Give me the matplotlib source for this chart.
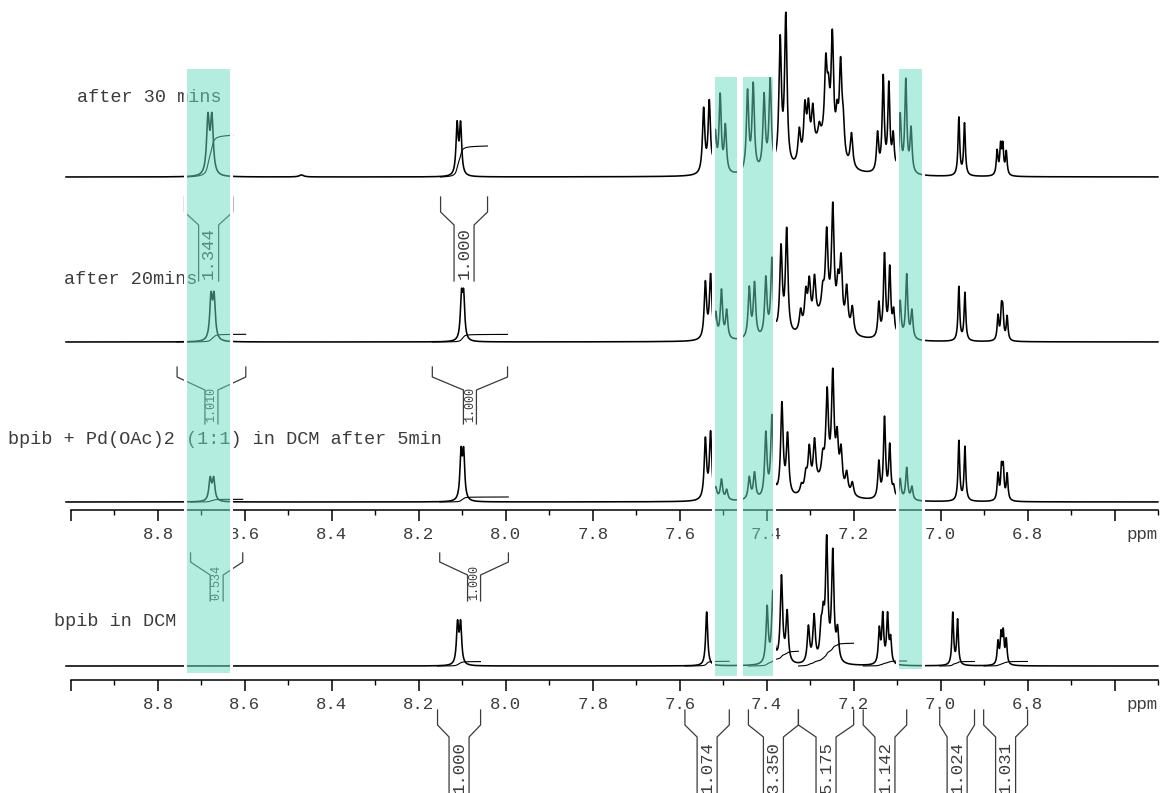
import numpy as np
import matplotlib
matplotlib.use("Agg")
import matplotlib.pyplot as plt
from matplotlib.patches import Rectangle
from matplotlib.ticker import FixedLocator, MultipleLocator

plt.rcParams["font.family"] = ["Liberation Mono", "DejaVu Sans Mono"]

# ------------------------------------------------------------------ data
titles = [
    "after 30 mins",
    "after 20mins",
    "bpib + Pd(OAc)2 (1:1) in DCM after 5min",
    "bpib in DCM",
]

# Peak tables for each trace: shift (ppm), height, half width at half height (ppm)
s1_shift = [8.685, 8.676, 8.470, 8.112, 8.104,
            7.545, 7.532, 7.518, 7.507, 7.495,
            7.444, 7.431, 7.406, 7.392, 7.369, 7.356,
            7.275, 7.325, 7.312, 7.304, 7.294, 7.279, 7.264, 7.258, 7.249,
            7.238, 7.230, 7.224, 7.205,
            7.145, 7.132, 7.119, 7.109, 7.093, 7.080, 7.068,
            6.958, 6.945, 6.870, 6.862, 6.857, 6.849]
s1_height = [56, 56, 2, 50, 50,
             64, 70, 36, 76, 46,
             80, 86, 74, 88, 126, 150,
             30, 32, 50, 46, 40, 14, 76, 42, 112,
             34, 90, 32, 34,
             38, 94, 86, 34, 56, 92, 44,
             58, 52, 24, 28, 28, 23]
s1_width = [0.0038, 0.0038, 0.006, 0.003, 0.003,
            0.0032, 0.0032, 0.003, 0.003, 0.003,
            0.0032, 0.0032, 0.0032, 0.0032, 0.0034, 0.0034,
            0.032, 0.0035, 0.0035, 0.0035, 0.0035, 0.0035, 0.0035, 0.0035, 0.0035,
            0.0035, 0.0035, 0.0035, 0.0035,
            0.0028, 0.0028, 0.0028, 0.0028, 0.0028, 0.0028, 0.0028,
            0.0023, 0.0023, 0.0023, 0.0023, 0.0023, 0.0023]

s2_shift = [8.678, 8.671, 8.102, 8.097,
            7.541, 7.529, 7.517, 7.504, 7.492,
            7.440, 7.428, 7.402, 7.388, 7.367, 7.354,
            7.270, 7.322, 7.310, 7.302, 7.290, 7.271, 7.262, 7.248,
            7.236, 7.229, 7.216, 7.203,
            7.142, 7.129, 7.117, 7.108, 7.093, 7.078, 7.066,
            6.958, 6.944, 6.868, 6.860, 6.857, 6.847]
s2_height = [42, 42, 42, 42,
             56, 62, 22, 48, 28,
             50, 54, 58, 76, 86, 104,
             24, 20, 34, 42, 42, 20, 80, 112,
             36, 64, 42, 26,
             34, 82, 68, 24, 36, 64, 28,
             54, 48, 24, 28, 26, 24]
s2_width = [0.0035, 0.0035, 0.003, 0.003,
            0.0032, 0.0032, 0.003, 0.003, 0.003,
            0.0032, 0.0032, 0.0032, 0.0032, 0.0034, 0.0034,
            0.032, 0.0035, 0.0035, 0.0035, 0.0035, 0.0035, 0.0035, 0.0035,
            0.0035, 0.0035, 0.0035, 0.0035,
            0.0028, 0.0028, 0.0028, 0.0028, 0.0028, 0.0028, 0.0028,
            0.0023, 0.0023, 0.0023, 0.0023, 0.0023, 0.0023]

s3_shift = [8.680, 8.672, 8.103, 8.097,
            7.541, 7.529, 7.517, 7.504, 7.492,
            7.440, 7.428, 7.402, 7.388, 7.365, 7.352,
            7.270, 7.320, 7.310, 7.302, 7.290, 7.271, 7.261, 7.248,
            7.238, 7.229, 7.216, 7.203,
            7.142, 7.129, 7.117, 7.108, 7.093, 7.078, 7.066,
            6.958, 6.944, 6.868, 6.860, 6.856, 6.847]
s3_height = [22, 22, 46, 46,
             60, 66, 8, 20, 10,
             22, 26, 64, 80, 92, 60,
             18, 8, 16, 40, 44, 20, 86, 108,
             46, 38, 20, 13,
             36, 80, 52, 10, 20, 32, 13,
             60, 54, 26, 30, 30, 26]
s3_width = [0.0035, 0.0035, 0.003, 0.003,
            0.0032, 0.0032, 0.003, 0.003, 0.003,
            0.0032, 0.0032, 0.0032, 0.0032, 0.0034, 0.0034,
            0.032, 0.0035, 0.0035, 0.0035, 0.0035, 0.0035, 0.0035, 0.0035,
            0.0035, 0.0035, 0.0035, 0.0035,
            0.0028, 0.0028, 0.0028, 0.0028, 0.0028, 0.0028, 0.0028,
            0.0023, 0.0023, 0.0023, 0.0023, 0.0023, 0.0023]

s4_shift = [8.111, 8.104,
            7.538, 7.399, 7.386, 7.366, 7.353,
            7.304, 7.291, 7.275, 7.270, 7.262, 7.248, 7.237,
            7.141, 7.133, 7.122, 7.115,
            6.972, 6.961, 6.868, 6.861, 6.856, 6.849]
s4_height = [40, 40,
             54, 56, 70, 86, 50,
             36, 46, 28, 36, 118, 108, 30,
             34, 48, 48, 24,
             52, 45, 22, 28, 30, 24]
s4_width = [0.003, 0.003,
            0.0028, 0.003, 0.003, 0.0032, 0.0032,
            0.0032, 0.0032, 0.0032, 0.0032, 0.0032, 0.0032, 0.0032,
            0.0026, 0.0026, 0.0026, 0.0026,
            0.0023, 0.0023, 0.0023, 0.0023, 0.0023, 0.0023]

# Integration regions (upper ppm, lower ppm) and integral values
s1_int_range = [(8.739, 8.628), (8.150, 8.042)]
s1_int_value = [1.344, 1.000]
s2_int_range = [(8.756, 8.598), (8.169, 7.996)]
s2_int_value = [1.010, 1.000]
s3_int_range = [(8.725, 8.605), (8.152, 7.994)]
s3_int_value = [0.534, 1.000]
s4_int_range = [(8.157, 8.058), (7.588, 7.486), (7.442, 7.327), (7.327, 7.200),
                (7.178, 7.078), (7.002, 6.922), (6.901, 6.800)]
s4_int_value = [1.000, 1.074, 3.350, 5.175, 1.142, 1.024, 1.031]

# Highlighted shift windows (upper ppm, lower ppm)
highlight_ranges = [(8.737, 8.633), (7.524, 7.467), (7.459, 7.383), (7.100, 7.041)]

# Chemical-shift scale
major_ticks = [9.0, 8.8, 8.6, 8.4, 8.2, 8.0, 7.8, 7.6, 7.4, 7.2, 7.0, 6.8, 6.6]
tick_labels = ["", "8.8", "8.6", "8.4", "8.2", "8.0", "7.8", "7.6", "7.4",
               "7.2", "7.0", "6.8", ""]
axis_unit = "ppm"

# ------------------------------------------------------------------ layout
W, H, DPI = 1160, 793, 100
AX_X0, AX_X1 = 71, 1158            # pixel extent of the shift scale
PPM_HI, PPM_LO = 9.0, 6.5
PX_PER_PPM = (AX_X1 - AX_X0) / (PPM_HI - PPM_LO)


def px2ppm(x):
    return PPM_HI - (x - AX_X0) / PX_PER_PPM


def dppm(px):
    return px / PX_PER_PPM


baselines = [177, 342, 502, 666]
title_pos = [(77, 96), (64, 279), (8, 438), (54, 620)]
int_scale = [31.0, 7.6, 5.0, 4.4]           # pixels per integral unit
# bracket geometry: arm top, kink, channel top, channel bottom, half channel, font, label y
bracket_geom = [
    (197, 212, 225, 281, 10, 12.5, 253),
    (367, 377, 390, 424, 6.5, 8.5, 405),
    (553, 562, 575, 601, 6.5, 8.5, 582),
    (710, 725, 737, 800, 10, 12.5, 767),
]
axis_rows = [510, 680]
highlight_top = [67, 75, 75, 67]
highlight_bottom = [674, 677, 677, 670]
TEXT = "#3c3c3c"
LINE = "#3a3a3a"

spectra = [
    (s1_shift, s1_height, s1_width, s1_int_range, s1_int_value),
    (s2_shift, s2_height, s2_width, s2_int_range, s2_int_value),
    (s3_shift, s3_height, s3_width, s3_int_range, s3_int_value),
    (s4_shift, s4_height, s4_width, s4_int_range, s4_int_value),
]

fig = plt.figure(figsize=(W / DPI, H / DPI), dpi=DPI)
ax = fig.add_axes([0, 0, 1, 1])
ax.set_xlim(px2ppm(0), px2ppm(W))
ax.set_ylim(H, 0)
ax.axis("off")

grid = np.arange(px2ppm(66), PPM_LO - 1e-9, -0.0004)


def trace(x, shift, height, width):
    s = np.asarray(shift)[None, :]
    h = np.asarray(height)[None, :]
    w = np.asarray(width)[None, :]
    return np.sum(h / (1.0 + ((x[:, None] - s) / w) ** 2), axis=1)


for k, (shift, height, width, irange, ivalue) in enumerate(spectra):
    base = baselines[k]
    inten = trace(grid, shift, height, width)
    ax.plot(grid, base - inten, color="black", lw=1.15, zorder=3)

    top, kink, ctop, cbot, half, fs, ly = bracket_geom[k]
    for (hi, lo), val in zip(irange, ivalue):
        # integral curve
        m = (grid <= hi) & (grid >= lo)
        xs = grid[m]
        cum = np.cumsum(inten[m])
        cum = cum / cum[-1] * val * int_scale[k]
        ax.plot(xs, base - cum, color="black", lw=0.8, zorder=3)
        # bracket with the value
        xc = 0.5 * (hi + lo)
        hw = dppm(half)
        ax.plot([hi, hi, xc + hw, xc + hw], [top, kink, ctop, cbot],
                color=LINE, lw=0.9, zorder=2)
        ax.plot([lo, lo, xc - hw, xc - hw], [top, kink, ctop, cbot],
                color=LINE, lw=0.9, zorder=2)
        ax.text(xc, ly, f"{val:.3f}", rotation=90, ha="center", va="center",
                fontsize=fs, color=TEXT, zorder=2)

    tx, ty = title_pos[k]
    ax.text(px2ppm(tx), ty + 1, titles[k], ha="left", va="center",
            fontsize=13.3, color=TEXT, zorder=2)

# shift scales
for row in axis_rows:
    axp = fig.add_axes([AX_X0 / W, 1 - row / H, (AX_X1 - AX_X0) / W, 1.0 / H])
    axp.set_xlim(PPM_HI, PPM_LO)
    axp.patch.set_visible(False)
    for side in ("top", "left", "right"):
        axp.spines[side].set_visible(False)
    axp.spines["bottom"].set_linewidth(1.1)
    axp.set_yticks([])
    axp.xaxis.set_major_locator(FixedLocator(major_ticks))
    axp.set_xticklabels(tick_labels)
    axp.xaxis.set_minor_locator(MultipleLocator(0.1))
    axp.tick_params(axis="x", which="major", direction="out", length=8,
                    width=1.1, pad=4, labelsize=12.5, labelcolor=TEXT)
    axp.tick_params(axis="x", which="minor", direction="out", length=3.8,
                    width=1.0)
    ax.text(PPM_LO, row + 24, axis_unit, ha="right", va="center",
            fontsize=12.5, color=TEXT)

# highlight windows drawn above everything
axh = fig.add_axes([0, 0, 1, 1])
axh.set_xlim(ax.get_xlim())
axh.set_ylim(ax.get_ylim())
axh.axis("off")
axh.set_zorder(10)
for (hi, lo), t, b in zip(highlight_ranges, highlight_top, highlight_bottom):
    axh.add_patch(Rectangle((hi, t), lo - hi, b - t,
                            facecolor=(0.4, 0.867, 0.757, 0.5),
                            edgecolor="white", lw=2.2))

fig.savefig("out.png", dpi=DPI)
